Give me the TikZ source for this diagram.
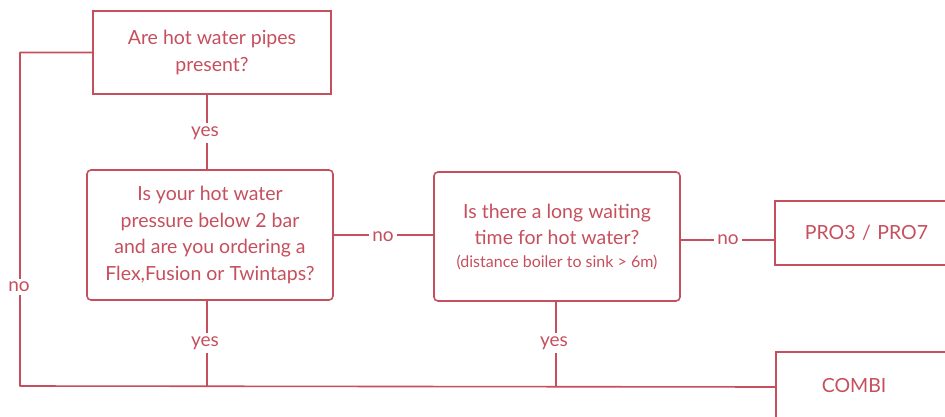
\documentclass[tikz,border=0pt]{standalone}
\usepackage{fontspec}
\setmainfont{Lato}
\definecolor{ink}{HTML}{C64F5D}
\begin{document}
\begin{tikzpicture}[x=1pt,y=-1pt,
  box/.style={draw=ink, line width=1.6pt, text=ink, align=center, inner sep=0pt,
    font=\fontsize{19.5}{26.5}\selectfont},
  rbox/.style={box, rounded corners=4pt},
  conn/.style={draw=ink, line width=1.6pt, line join=round},
  lab/.style={fill=white, text=ink, inner sep=3pt, font=\fontsize{19}{22}\selectfont}]
\useasboundingbox (0,0) rectangle (945,417);
\clip (0,0) rectangle (945,417);

\node[box, minimum width=238pt, minimum height=83pt] (q1) at (212,52.5)
  {Are hot water pipes\\present?};
\node[rbox, minimum width=246pt, minimum height=130pt] (q2) at (210,235)
  {Is your hot water\\pressure below 2 bar\\and are you ordering a\\Flex,Fusion or Twintaps?};
\node[rbox, minimum width=246pt, minimum height=129pt] (q3) at (557,236.5)
  {Is there a long waiting\\time for hot water?\\[-4pt]{\fontsize{16}{18}\selectfont(distance boiler to sink > 6m)}};
\node[box, anchor=west, minimum height=64pt, inner xsep=30pt, text width=180pt, align=left] (pro) at (774,233)
  {PRO3 / PRO7};
\node[box, anchor=west, minimum height=70pt, inner xsep=46pt, text width=180pt, align=left] (combi) at (775,387)
  {\raisebox{3pt}{COMBI}};

\coordinate (j1) at (20,52.5);
\coordinate (j2) at (20,386);
\coordinate (j3) at (207,386);
\coordinate (j4) at (556,386);

\draw[conn] (q1.west) -- (j1) -- (j2) -- (combi.west);
\draw[conn] (q1.south -| j3) -- (q2.north -| j3);
\draw[conn] (q2.south -| j3) -- (j3);
\draw[conn] (q3.south -| j4) -- (j4);
\draw[conn] (q2.east) -- (q2.east -| q3.west);
\draw[conn] (q3.east |- 0,240) -- (pro.west |- 0,240);

\node[lab] at (19,287) {no};
\node[lab] at (205,133) {yes};
\node[lab] at (205,343) {yes};
\node[lab] at (554,343) {yes};
\node[lab] at (383,237) {no};
\node[lab] at (728,240) {no};
\end{tikzpicture}
\end{document}
